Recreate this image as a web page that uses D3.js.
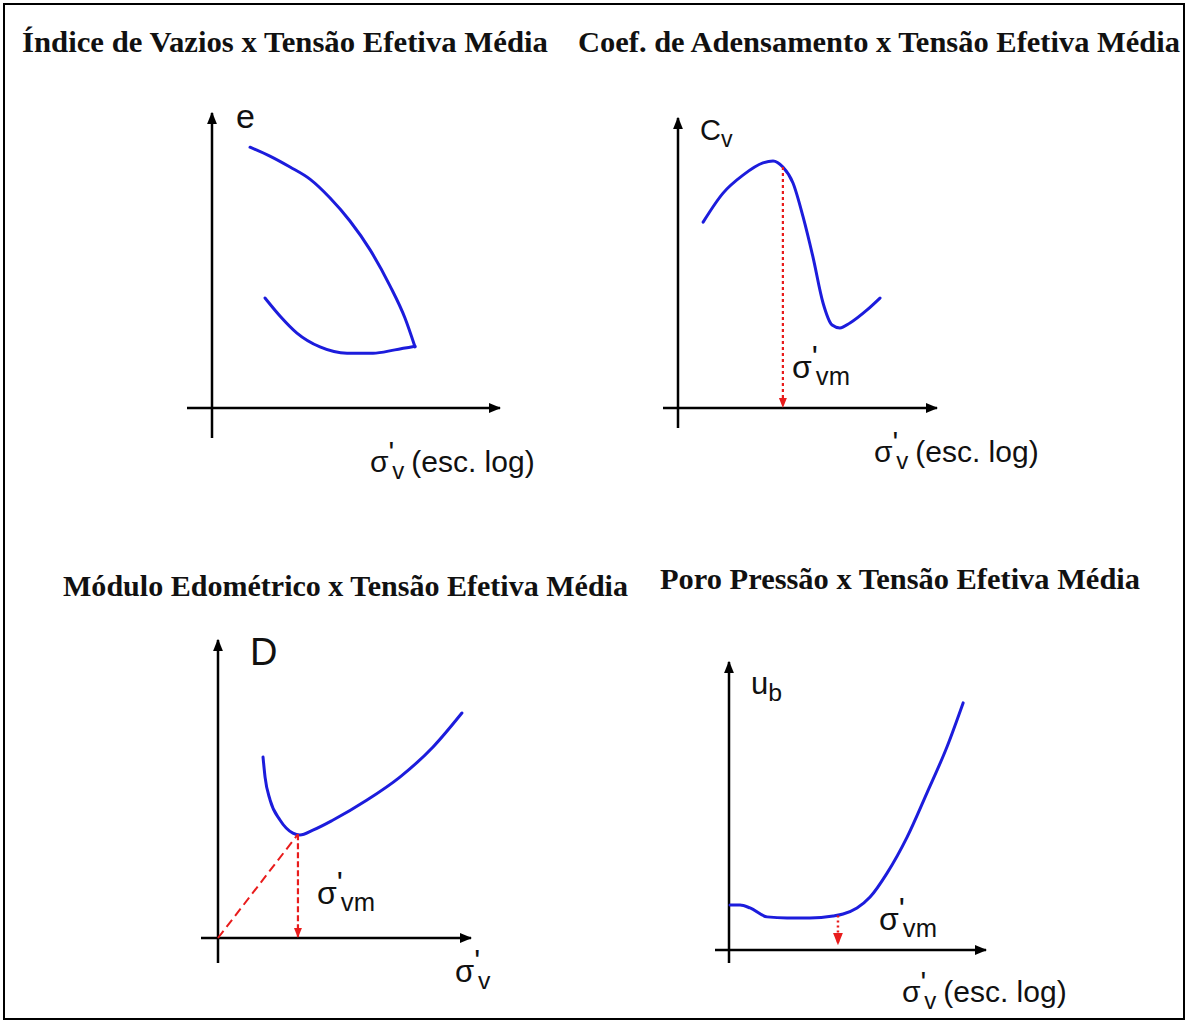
<!DOCTYPE html>
<html><head><meta charset="utf-8">
<script src="https://cdn.jsdelivr.net/npm/d3@7"></script>
<style>
body{margin:0;background:#fff;}
text{font-family:"Liberation Sans",Arial,sans-serif;fill:#111;}
.title{font-family:"Liberation Serif","DejaVu Serif",serif;font-weight:bold;fill:#111;}
</style></head>
<body><svg id="c" width="1191" height="1023"></svg>
<script>
// ---- data (relative units 0..100 on each panel's axes) ----
const titles = ["Índice de Vazios x Tensão Efetiva Média","Coef. de Adensamento x Tensão Efetiva Média","Módulo Edométrico x Tensão Efetiva Média","Poro Pressão x Tensão Efetiva Média"];
const eLoadX = [13.2,20.1,27.1,34.0,41.0,47.9,54.9,61.8,67.0,70.5];
const eLoadY = [88.4,85.4,81.7,77.6,71.2,63.4,53.6,41.4,30.5,20.7];
const eUnloadX = [18.4,23.6,29.5,37.5,46.9,55.9,63.5,70.5];
const eUnloadY = [37.3,31.2,25.4,20.7,18.6,18.6,19.7,20.9];
const cvX = [9.7,17.4,25.1,32.8,36.7,40.5,44.4,48.3,52.1,56.0,59.5,62.5,66.4,73.0,78.0];
const cvY = [64.1,74.1,80.3,84.5,85.2,83.1,77.6,65.9,52.1,36.2,28.6,27.6,29.3,33.8,37.9];
const cvMark = [40.5,83.1];
const dX = [17.8,18.6,20.6,24.5,29.6,32.4,37.5,45.5,58.9,71.9,85.0,96.4];
const dY = [60.7,54.0,46.3,39.6,35.2,34.6,36.2,39.6,46.3,54.0,64.1,75.5];
const dMark = [31.6,34.8];
const ubX = [0.4,4.3,8.2,14.8,22.6,31.5,40.5,44.4,49.8,54.9,61.5,69.3,77.0,84.8,91.1];
const ubY = [15.6,15.6,14.6,11.5,11.1,11.1,11.8,12.5,14.6,18.4,26.7,39.2,54.5,70.5,85.8];
const ubMark = [42.4,12.0];
const yLabels = ["e","C","D","u"];
const ySubs = ["","v","","b"];

const svg = d3.select("#c");
svg.append("rect").attr("x",4).attr("y",4).attr("width",1180).attr("height",1015)
  .attr("fill","none").attr("stroke","#000").attr("stroke-width",2);

const defs = svg.append("defs");
function mk(id,color,size){
  defs.append("marker").attr("id",id).attr("viewBox","0 0 10 10").attr("refX",9).attr("refY",5)
   .attr("markerWidth",size).attr("markerHeight",size).attr("orient","auto").attr("markerUnits","strokeWidth")
   .append("path").attr("d","M0,1L10,5L0,9Z").attr("fill",color);
}
const BLUE="#1c1cdc", RED="#e81c1c";
mk("ax","#000",5); mk("rd",RED,4.5); mk("rdb",RED,5);

const panels = [
 {ox:212,oy:408,xe:500,yt:113,xs:187,yb:438},
 {ox:678,oy:408,xe:937,yt:118,xs:663,yb:428},
 {ox:218,oy:938,xe:471,yt:640,xs:201,yb:963},
 {ox:729,oy:950,xe:986,yt:662,xs:715,yb:963}
];
const titlePos = [[22,52,526],[578,52,602],[63,596,565],[660,589,480]];
titles.forEach((t,i)=>{
  svg.append("text").attr("class","title").attr("x",titlePos[i][0]).attr("y",titlePos[i][1])
   .attr("font-size",29).attr("textLength",titlePos[i][2]).attr("lengthAdjust","spacingAndGlyphs").text(t);
});

panels.forEach(p=>{
  p.x = d3.scaleLinear().domain([0,100]).range([p.ox,p.xe]);
  p.y = d3.scaleLinear().domain([0,100]).range([p.oy,p.yt]);
  const g = svg.append("g");
  g.append("line").attr("x1",p.xs).attr("y1",p.oy).attr("x2",p.xe).attr("y2",p.oy)
   .attr("stroke","#000").attr("stroke-width",2.5).attr("marker-end","url(#ax)");
  g.append("line").attr("x1",p.ox).attr("y1",p.yb).attr("x2",p.ox).attr("y2",p.yt)
   .attr("stroke","#000").attr("stroke-width",2.5).attr("marker-end","url(#ax)");
  p.g = g;
});

function curve(p, xs, ys){
  const line = d3.line().x(d=>p.x(d[0])).y(d=>p.y(d[1])).curve(d3.curveMonotoneX);
  p.g.append("path").attr("d",line(d3.zip(xs,ys))).attr("fill","none")
   .attr("stroke",BLUE).attr("stroke-width",3).attr("stroke-linecap","round").attr("stroke-linejoin","round");
}
curve(panels[0],eLoadX,eLoadY);
curve(panels[0],eUnloadX,eUnloadY);
curve(panels[1],cvX,cvY);
curve(panels[2],dX,dY);
curve(panels[3],ubX,ubY);

// red markers
function vmark(p,m,dash,w,mid,end){
  p.g.append("line").attr("x1",p.x(m[0])).attr("y1",p.y(m[1])).attr("x2",p.x(m[0])).attr("y2",end)
   .attr("stroke",RED).attr("stroke-width",w).attr("stroke-dasharray",dash).attr("marker-end","url(#"+mid+")");
}
vmark(panels[1],cvMark,"3,3",2.2,"rd",panels[1].oy-1);
vmark(panels[2],dMark,"6,3",2.2,"rd",panels[2].oy-1);
panels[2].g.append("line").attr("x1",panels[2].x(0)).attr("y1",panels[2].y(0))
  .attr("x2",panels[2].x(dMark[0])).attr("y2",panels[2].y(dMark[1]))
  .attr("stroke",RED).attr("stroke-width",2).attr("stroke-dasharray","9,5");
vmark(panels[3],ubMark,"2,3",2.5,"rdb",panels[3].oy-6);

// axis labels
const yLabPos = [[236,128,34],[700,140,29],[250,665,38],[751,694,31]];
yLabels.forEach((l,i)=>{
  const t = svg.append("text").attr("x",yLabPos[i][0]).attr("y",yLabPos[i][1]).attr("font-size",yLabPos[i][2]);
  t.append("tspan").text(l);
  if(ySubs[i]) t.append("tspan").attr("dy",7).attr("font-size",yLabPos[i][2]*0.8).text(ySubs[i]);
});

function sigma(x,y,sub,extra,fs){
  const t = svg.append("text").attr("x",x).attr("y",y).attr("font-size",fs);
  t.append("tspan").text("σ");
  t.append("tspan").attr("dy",-10).text("'");
  t.append("tspan").attr("dx",-2).attr("dy",17).attr("font-size",fs*0.8).text(sub);
  if(extra) t.append("tspan").attr("dx",7).attr("dy",-7).text(extra);
}
sigma(370,472,"v","(esc. log)",30);
sigma(874,462,"v","(esc. log)",30);
sigma(455,982,"v","",31);
sigma(902,1002,"v","(esc. log)",30);
sigma(792,378,"vm","",32);
sigma(317,904,"vm","",32);
sigma(879,930,"vm","",32);
</script></body></html>
